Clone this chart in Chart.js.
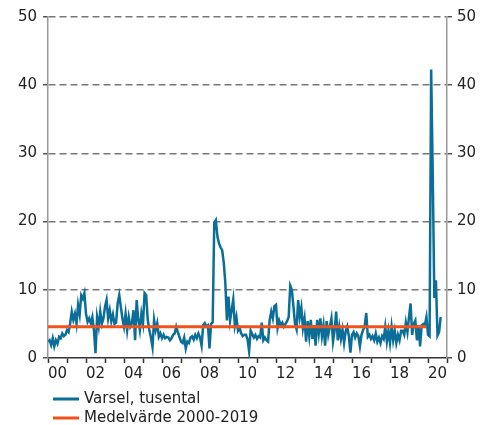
<!DOCTYPE html>
<html>
<head>
<meta charset="utf-8">
<script src="https://cdn.jsdelivr.net/npm/chart.js@4"></script>
<style>
  html, body { margin: 0; padding: 0; background: #fff; }
</style>
</head>
<body>
<canvas id="chart" width="489" height="425"></canvas>
<script>
// monthly layoff notices (thousands), Jan 2000 - Sep 2020
const varsel = [
  2.4, 2.6, 1.9, 2.9, 1.7, 2.6, 2.1, 3.1, 2.9, 3.6, 3.2, 3.4,   // 2000
  4.1, 3.8, 5.1, 6.8, 5.6, 6.5, 5.0, 7.8, 6.4, 9.2, 8.7, 9.5,   // 2001
  6.5, 5.3, 5.8, 5.1, 6.0, 4.1, 0.7, 6.0, 4.6, 6.8, 5.0, 5.8,   // 2002
  7.5, 8.5, 5.8, 7.0, 5.4, 6.4, 5.0, 5.2, 8.0, 9.2, 7.5, 5.8,   // 2003
  4.6, 6.5, 4.1, 6.0, 4.6, 5.1, 7.0, 2.6, 8.5, 5.6, 4.1, 6.5,   // 2004
  5.1, 9.5, 9.2, 5.6, 4.1, 3.0, 1.6, 5.6, 4.1, 5.1, 3.1, 3.6,   // 2005
  2.9, 3.4, 2.9, 3.1, 3.0, 2.6, 2.9, 3.4, 3.6, 4.6, 3.8, 3.1,   // 2006
  2.4, 2.2, 3.0, 1.4, 2.4, 2.2, 3.0, 3.2, 2.7, 3.4, 2.9, 3.6,   // 2007
  3.0, 1.8, 4.8, 5.1, 4.6, 4.8, 1.4, 5.0, 5.2, 19.8, 20.2, 17.8, // 2008
  16.8, 16.2, 15.8, 14.0, 11.0, 5.5, 9.0, 5.5, 7.0, 8.6, 4.8, 6.0, // 2009
  4.0, 4.4, 3.6, 3.2, 3.4, 3.4, 2.8, 1.0, 4.0, 3.5, 3.0, 3.4,   // 2010
  2.8, 3.2, 3.0, 5.2, 2.6, 3.0, 2.6, 2.4, 5.6, 6.8, 5.8, 7.6,   // 2011
  7.8, 4.4, 5.5, 4.8, 5.2, 4.6, 5.0, 5.4, 6.0, 10.6, 10.0, 7.6, // 2012
  5.0, 4.2, 8.5, 6.0, 7.4, 4.4, 5.8, 2.4, 5.4, 3.2, 5.6, 2.8,   // 2013
  4.8, 1.8, 5.6, 3.6, 5.8, 3.2, 4.8, 1.8, 5.4, 3.4, 4.6, 5.8,   // 2014
  2.4, 4.0, 6.8, 2.6, 4.5, 2.8, 4.2, 2.2, 3.9, 4.6, 3.2, 0.8,   // 2015
  3.4, 3.8, 3.0, 3.6, 3.2, 1.7, 3.4, 4.1, 4.6, 6.6, 3.1, 3.4,   // 2016
  2.8, 3.2, 2.6, 3.6, 2.4, 3.0, 2.2, 3.2, 2.8, 4.6, 2.4, 4.0,   // 2017
  2.2, 4.6, 2.6, 4.0, 2.2, 3.4, 2.6, 4.0, 4.0, 3.4, 5.2, 3.8,   // 2018
  6.0, 8.0, 3.4, 5.0, 5.5, 2.6, 4.8, 1.7, 4.8, 5.0, 4.8, 6.0,   // 2019
  3.4, 3.2, 42.3, 26.8, 8.8, 11.4, 3.3, 3.8, 6.0                // 2020
];
const medelvarde = [4.6, 4.6];      // average 2000-2019
const medelMonths = [0, 239];       // Jan 2000 .. Dec 2019
const yearLabels = ['00', '02', '04', '06', '08', '10', '12', '14', '16', '18', '20'];
const seriesNames = ['Varsel, tusental', 'Medelvärde 2000-2019'];
const yTicks = [0, 10, 20, 30, 40, 50];

const FONT = { family: '"DejaVu Sans", Verdana, sans-serif', size: 15 };

// two legend rows under the x axis
const legendRows = {
  id: 'legendRows',
  afterDraw(chart) {
    const ctx = chart.ctx;
    ctx.save();
    ctx.font = '15px "DejaVu Sans", Verdana, sans-serif';
    ctx.textBaseline = 'middle';
    chart.data.datasets.forEach((ds, i) => {
      const y = 399 + i * 19;
      ctx.strokeStyle = ds.borderColor;
      ctx.lineWidth = 3;
      ctx.beginPath();
      ctx.moveTo(53, y);
      ctx.lineTo(79, y);
      ctx.stroke();
      ctx.fillStyle = '#222';
      ctx.fillText(ds.label, 84, y);
    });
    ctx.restore();
  }
};

new Chart(document.getElementById('chart'), {
  type: 'line',
  data: {
    datasets: [
      {
        label: seriesNames[0],
        data: varsel.map((v, i) => ({ x: i, y: v })),
        borderColor: '#0b6e99',
        borderWidth: 2.5,
        pointRadius: 0,
        tension: 0,
        order: 2
      },
      {
        label: seriesNames[1],
        data: medelMonths.map((m, i) => ({ x: m, y: medelvarde[i] })),
        borderColor: '#f0521a',
        borderWidth: 3,
        pointRadius: 0,
        order: 1
      }
    ]
  },
  options: {
    responsive: false,
    animation: false,
    layout: { padding: { top: 17, left: 0, right: 0, bottom: 0 } },
    plugins: { legend: { display: false }, tooltip: { enabled: false } },
    scales: {
      x: {
        type: 'linear',
        min: 0,
        max: 252,
        afterBuildTicks: (scale) => {
          scale.ticks = [];
          for (let i = 0; i <= 21; i++) scale.ticks.push({ value: i * 12 });
        },
        afterFit: (scale) => { scale.height = 67; },
        grid: { drawOnChartArea: false, drawTicks: true, tickLength: 5, tickColor: '#333', tickWidth: 1.5 },
        border: { color: '#333', width: 1.5 },
        ticks: {
          autoSkip: false,
          maxRotation: 0,
          labelOffset: 9.5,
          padding: 2,
          color: '#222',
          font: FONT,
          callback: (v) => {
            const yr = v / 12;
            return yr % 2 === 0 && yr / 2 < yearLabels.length ? yearLabels[yr / 2] : '';
          }
        }
      },
      y: {
        position: 'left',
        min: 0,
        max: 50,
        afterBuildTicks: (scale) => { scale.ticks = yTicks.map(v => ({ value: v })); },
        afterFit: (scale) => { scale.width = 48; },
        grid: {
          color: (c) => (c.tick && c.tick.value === 0 ? 'rgba(0,0,0,0)' : '#777'),
          lineWidth: 1.5,
          tickLength: 5,
          tickColor: '#555',
          tickBorderDash: []
        },
        border: { color: '#999', width: 1.5, dash: [7, 4] },
        ticks: { color: '#222', font: FONT, padding: 6 }
      },
      y2: {
        position: 'right',
        min: 0,
        max: 50,
        afterBuildTicks: (scale) => { scale.ticks = yTicks.map(v => ({ value: v })); },
        afterFit: (scale) => { scale.width = 42; },
        grid: { drawOnChartArea: false, tickLength: 5, tickColor: '#555', lineWidth: 1.5 },
        border: { color: '#999', width: 1.5 },
        ticks: { color: '#222', font: FONT, padding: 5 }
      }
    }
  },
  plugins: [legendRows]
});
</script>
</body>
</html>
